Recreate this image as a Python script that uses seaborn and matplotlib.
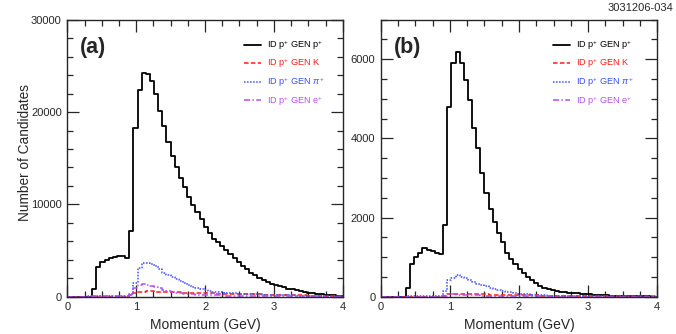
import numpy as np
import pandas as pd
import seaborn as sns
import matplotlib
matplotlib.use('Agg')
import matplotlib.pyplot as plt
from matplotlib.ticker import MultipleLocator

# momentum bins: 0.06 GeV wide
edges = [round(0.06 * i, 2) for i in range(68)]
centers = [(edges[i] + edges[i + 1]) / 2 for i in range(67)]

# panel (a) counts per bin
a_p = [0, 0, 0, 0, 0, 0, 830, 3180, 3720, 3970, 4190, 4330, 4440, 4440, 4150,
       7080, 18230, 22420, 24200, 24100, 23390, 21950, 20140, 18520, 16710,
       15270, 14010, 12850, 11840, 10830, 9960, 9130, 8410, 7500, 6900, 6300,
       5900, 5450, 5050, 4600, 4150, 3750, 3350, 2950, 2600, 2300, 2050, 1800,
       1600, 1420, 1260, 1120, 1000, 880, 780, 690, 600, 520, 450, 380, 320,
       260, 210, 170, 130, 90, 60]
a_k = [0, 0, 0, 0, 0, 0, 0, 0, 0, 0, 0, 0, 0, 0, 0,
       150, 430, 520, 560, 580, 580, 560, 550, 540, 520, 500, 480, 470, 450,
       440, 420, 400, 390, 370, 360, 350, 340, 330, 320, 310, 300, 290, 280,
       270, 260, 250, 240, 230, 220, 210, 200, 190, 180, 170, 160, 150, 140,
       130, 120, 110, 100, 90, 80, 70, 60, 50, 40]
a_pi = [0, 0, 0, 0, 0, 30, 30, 30, 30, 30, 30, 30, 30, 30, 30,
        300, 1500, 3100, 3700, 3700, 3550, 3300, 2950, 2600, 2350, 2100, 1880,
        1650, 1450, 1270, 1100, 970, 830, 700, 620, 560, 510, 470, 430, 400,
        370, 340, 320, 300, 280, 260, 240, 220, 200, 190, 180, 165, 150, 140,
        130, 120, 110, 100, 90, 80, 70, 60, 50, 45, 40, 30, 20]
a_e = [0, 0, 0, 0, 0, 0, 30, 30, 30, 30, 30, 30, 30, 30, 30,
       200, 900, 1250, 1350, 1300, 1200, 1050, 900, 760, 620, 520, 440, 380,
       330, 290, 260, 230, 210, 190, 170, 150, 140, 130, 120, 110, 100, 95,
       90, 85, 80, 75, 70, 65, 60, 55, 50, 45, 42, 40, 38, 35, 32, 30, 28,
       26, 24, 22, 20, 18, 16, 14, 12]

# panel (b) counts per bin
b_p = [0, 0, 0, 0, 0, 0, 211, 826, 1010, 1096, 1222, 1180, 1163, 1096, 1070,
       1812, 4805, 5918, 6196, 5900, 5480, 4970, 4257, 3750, 3136, 2630, 2209,
       1897, 1619, 1391, 1100, 960, 830, 700, 590, 490, 410, 340, 280, 230,
       190, 160, 135, 120, 110, 100, 90, 82, 74, 66, 58, 50, 44, 38, 33, 28,
       24, 20, 17, 14, 12, 10, 8, 6, 5, 4, 3]
b_k = [0, 0, 0, 0, 0, 0, 0, 0, 0, 0, 0, 0, 0, 0, 0,
       20, 60, 75, 80, 80, 78, 75, 70, 66, 62, 58, 55, 52, 50, 48, 46, 44,
       42, 40, 38, 36, 34, 32, 30, 29, 28, 27, 26, 25, 24, 23, 22, 21, 20,
       19, 18, 17, 16, 15, 14, 13, 12, 12, 11, 11, 10, 10, 9, 9, 8, 8, 7]
b_pi = [0, 0, 0, 0, 0, 0, 5, 5, 5, 5, 5, 5, 5, 5, 5,
        150, 420, 470, 540, 500, 470, 420, 370, 330, 290, 260, 230, 200, 180,
        150, 130, 110, 95, 80, 70, 60, 52, 45, 40, 35, 30, 28, 26, 24, 22, 20,
        18, 16, 15, 14, 13, 12, 11, 10, 9, 8, 8, 7, 7, 6, 6, 5, 5, 4, 4, 3, 3]
b_e = [0, 0, 0, 0, 0, 0, 0, 0, 0, 0, 0, 0, 0, 0, 0,
       30, 70, 60, 55, 50, 45, 40, 36, 32, 28, 25, 22, 20, 18, 16, 14, 12,
       11, 10, 9, 8, 7, 6, 6, 5, 5, 4, 4, 3, 3, 3, 2, 2, 2, 2, 1, 1, 1, 1,
       1, 1, 1, 1, 1, 1, 1, 1, 1, 1, 1, 1, 1]

labels = ['ID p$^{+}$ GEN p$^{+}$', 'ID p$^{+}$ GEN K', 'ID p$^{+}$ GEN $\\pi^{+}$', 'ID p$^{+}$ GEN e$^{+}$']
colors = ['black', '#ff1a1a', '#3a4dff', '#b84dee']
styles = ['-', (0, (3, 1.5)), (0, (1, 1)), (0, (4, 1.5, 1, 1.5))]
widths = [1.3, 1.1, 1.1, 1.1]

sns.set_style('ticks')
plt.rcParams['font.family'] = ['Liberation Sans', 'DejaVu Sans']
plt.rcParams['mathtext.fontset'] = 'custom'
plt.rcParams['mathtext.rm'] = 'Liberation Sans'
plt.rcParams['mathtext.it'] = 'Liberation Sans:italic'

fig = plt.figure(figsize=(6.76, 3.34), dpi=100)
ax_a = fig.add_axes([0.0996, 0.1117, 0.4075, 0.8293])
ax_b = fig.add_axes([0.5636, 0.1117, 0.4083, 0.8293])

panels = [
    (ax_a, [a_p, a_k, a_pi, a_e], 30000, 10000, 2000, '(a)', 0.625),
    (ax_b, [b_p, b_k, b_pi, b_e], 7000, 2000, 500, '(b)', 0.605),
]

for ax, series, ytop, ymaj, ymin, tag, legx in panels:
    for counts, lab, c, ls, lw in zip(series, labels, colors, styles, widths):
        df = pd.DataFrame({'momentum': centers, 'n': counts})
        sns.histplot(data=df, x='momentum', weights='n', bins=edges, element='step',
                     fill=False, color=c, linestyle=ls, linewidth=lw, label=lab, ax=ax)
    ax.set_xlim(0, 4)
    ax.set_ylim(0, ytop)
    ax.xaxis.set_major_locator(MultipleLocator(1))
    ax.xaxis.set_minor_locator(MultipleLocator(0.25))
    ax.yaxis.set_major_locator(MultipleLocator(ymaj))
    ax.yaxis.set_minor_locator(MultipleLocator(ymin))
    ax.tick_params(which='both', direction='in', top=True, right=True, labelsize=8, pad=4)
    ax.tick_params(which='major', length=8.5, width=0.9)
    ax.tick_params(which='minor', length=4.5, width=0.9)
    for sp in ax.spines.values():
        sp.set_linewidth(1.0)
    ax.set_xlabel('Momentum (GeV)', fontsize=10)
    ax.set_ylabel('')
    ax.text(0.045, 0.9, tag, transform=ax.transAxes, fontsize=15.5, fontweight='bold',
            va='center', ha='left')
    ax.legend(loc='upper left', bbox_to_anchor=(legx, 0.95), frameon=False, fontsize=6.6,
              labelcolor='linecolor', handlelength=1.9, handletextpad=0.65,
              labelspacing=0.53, borderpad=0)

ax_a.set_ylabel('Number of Candidates', fontsize=9.8)
ax_a.yaxis.set_label_coords(-0.13, 0.52)
fig.text(0.9956, 0.975, '3031206-034', fontsize=8, ha='right', va='center')

fig.savefig('out.png', dpi=100)
